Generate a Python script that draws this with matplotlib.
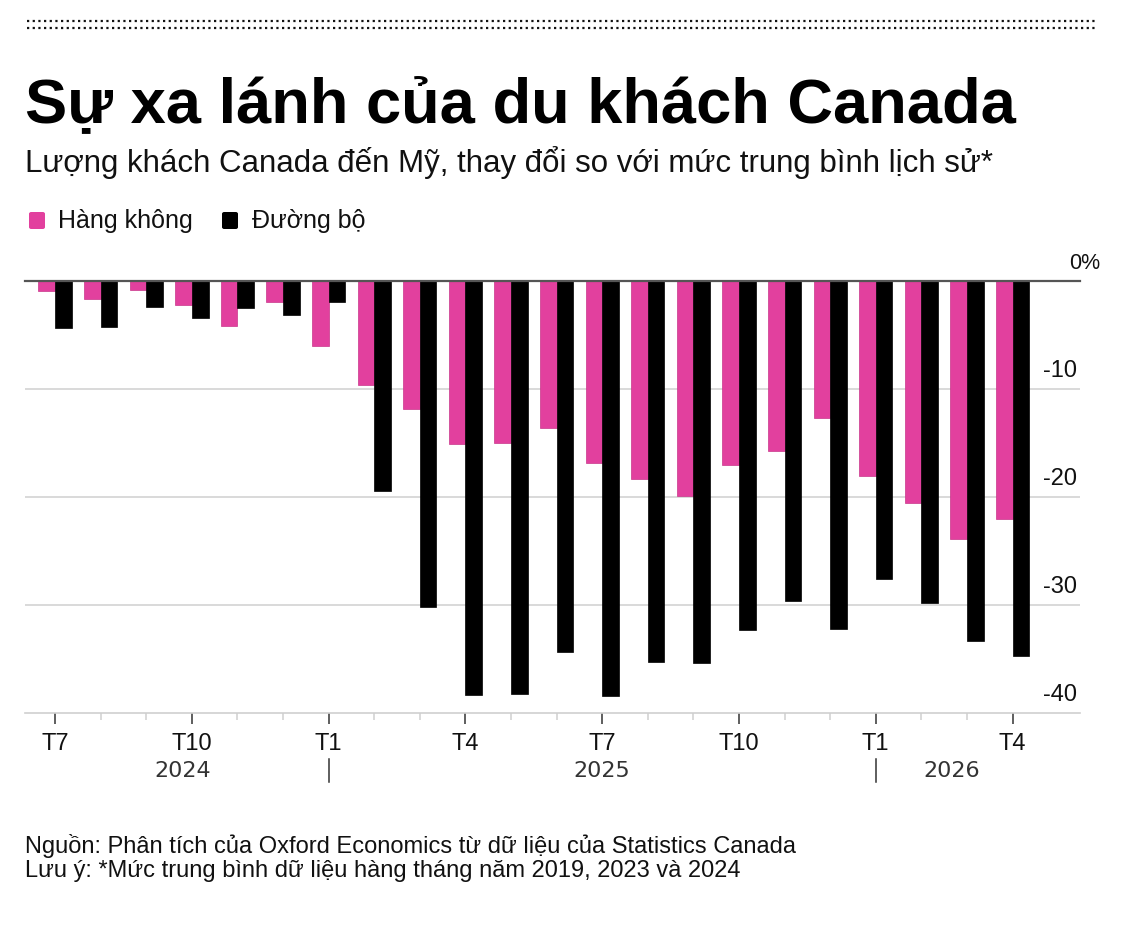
import matplotlib
matplotlib.use('Agg')
import matplotlib.pyplot as plt
from matplotlib.lines import Line2D
from matplotlib.patches import FancyBboxPatch
import numpy as np

plt.rcParams['font.family'] = ['Liberation Sans', 'DejaVu Sans']

# monthly change vs historical average (%), T7 2024 .. T4 2026
months = ['T7', 'T8', 'T9', 'T10', 'T11', 'T12',
          'T1', 'T2', 'T3', 'T4', 'T5', 'T6', 'T7', 'T8', 'T9', 'T10', 'T11', 'T12',
          'T1', 'T2', 'T3', 'T4']
air = [-0.9, -1.6, -0.8, -2.2, -4.1, -1.9,
       -6.0, -9.6, -11.8, -15.1, -15.0, -13.6, -16.85, -18.35, -19.85, -17.05, -15.7, -12.7,
       -18.05, -20.5, -23.9, -22.0]
road = [-4.3, -4.2, -2.4, -3.4, -2.5, -3.1,
        -1.9, -19.4, -30.2, -38.3, -38.2, -34.35, -38.4, -35.3, -35.4, -32.35, -29.6, -32.2,
        -27.6, -29.8, -33.3, -34.7]
years = ['2024', '2025', '2026']
yticks = [0, -10, -20, -30, -40]
series_names = ['Hàng không', 'Đường bộ']

PINK = '#E2409E'
W, H = 1132, 928

fig = plt.figure(figsize=(W / 100, H / 100), dpi=100)

def fx(px):
    return px / W

def fy(py):
    return 1 - py / H

# dotted rule at the top
for yy in (21.5, 29):
    fig.add_artist(Line2D([fx(27), fx(1098)], [fy(yy), fy(yy)], color='#111',
                          lw=1.6, linestyle=(0, (1.0, 1.55)), dash_capstyle='butt'))

fig.text(fx(25), fy(122), 'Sự xa lánh của du khách Canada', fontsize=45.5,
         fontweight='bold', color='#000', va='baseline', ha='left')
fig.text(fx(25), fy(172), 'Lượng khách Canada đến Mỹ, thay đổi so với mức trung bình lịch sử*',
         fontsize=22.5, color='#111', va='baseline', ha='left')

# legend
for (x0, name, col, tx) in [(29, series_names[0], PINK, 58), (222, series_names[1], '#000', 252)]:
    fig.add_artist(FancyBboxPatch((fx(x0), fy(230)), fx(16), 17 / H,
                                  boxstyle='round,pad=0,rounding_size=0.002',
                                  fc=col, ec='none'))
    fig.text(fx(tx), fy(228), name, fontsize=18, color='#111', va='baseline', ha='left')

# axes
ax = fig.add_axes([fx(25), fy(714), fx(1055), (714 - 282.3) / H])
x = np.arange(len(months))
w = 0.365
ax.bar(x - w / 2, air, w, color=PINK, edgecolor='#C8358A', linewidth=0.5, zorder=3)
ax.bar(x + w / 2, road, w, color='#000', edgecolor='#000', linewidth=0.5, zorder=3)

ax.set_xlim(-0.66, 22.48)
ax.set_ylim(-40, 0)
for s in ['top', 'right', 'left']:
    ax.spines[s].set_visible(False)
ax.spines['bottom'].set_color('#cfcfcf')
ax.spines['bottom'].set_linewidth(1.2)

for v in yticks[1:-1]:
    ax.axhline(v, color='#d0d0d0', lw=1.1, zorder=1)
ax.axhline(0, color='#555', lw=1.6, zorder=4, clip_on=False)

ax.set_yticks([])
major = [i for i, m in enumerate(months) if m in ('T1', 'T4', 'T7', 'T10')]
ax.set_xticks(major)
ax.set_xticklabels([months[i] for i in major], fontsize=17, color='#111')
ax.set_xticks(x, minor=True)
ax.tick_params(axis='x', which='major', length=8, width=1.1, color='#333', pad=6)
ax.tick_params(axis='x', which='minor', length=5, width=1.1, color='#cfcfcf')

# y labels on the right, sitting above grid lines
for v in yticks:
    lab = '0%' if v == 0 else str(v)
    xo = 20 if v == 0 else -3
    ax.annotate(lab, xy=(1, v), xycoords=('axes fraction', 'data'),
                xytext=(xo * 0.72, 6), textcoords='offset points',
                ha='right', va='bottom', fontsize=17 if v else 15.5, color='#111')

# years and separators
trans = ax.get_xaxis_transform()
for lab, xp in zip(years, [2.8, 12.0, 19.67]):
    ax.text(xp, -0.132, lab, transform=trans, ha='center', va='center',
            fontsize=16, color='#333', family='DejaVu Sans')
for i, m in enumerate(months):
    if m == 'T1' and i > 0:
        ax.plot([i, i], [-0.106, -0.16], transform=trans, color='#333', lw=1.1,
                clip_on=False)

fig.text(fx(25), fy(853), 'Nguồn: Phân tích của Oxford Economics từ dữ liệu của Statistics Canada',
         fontsize=17, color='#111', va='baseline', ha='left')
fig.text(fx(25), fy(877), 'Lưu ý: *Mức trung bình dữ liệu hàng tháng năm 2019, 2023 và 2024',
         fontsize=17, color='#111', va='baseline', ha='left')

fig.savefig('out.png', dpi=100, facecolor='white')
